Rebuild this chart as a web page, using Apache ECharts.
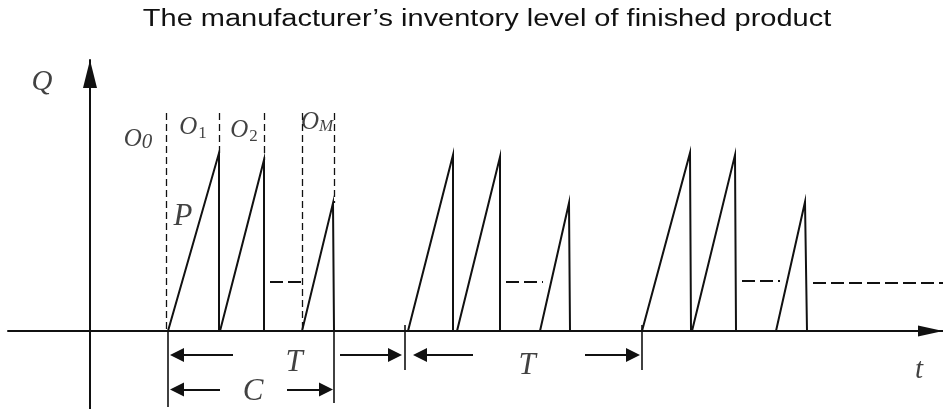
<!DOCTYPE html>
<html>
<head>
<meta charset="utf-8">
<script src="https://cdn.jsdelivr.net/npm/echarts@6/dist/echarts.min.js"></script>
<style>
  html, body { margin: 0; padding: 0; background: #fff; }
  #chart { width: 943px; height: 409px; }
</style>
</head>
<body>
<div id="chart"></div>
<script>
// Inventory sawtooth: each tooth = [start (t, Q), peak (t, Q), drop (t, Q)]
const teeth = [
  [[7.8, 0], [12.9, 17.8], [12.9, 0]],
  [[13.0, 0], [17.4, 17.1], [17.4, 0]],
  [[21.2, 0], [24.3, 12.8], [24.4, 0]],
  [[31.8, 0], [36.3, 17.6], [36.3, 0]],
  [[36.7, 0], [41.0, 17.4], [41.0, 0]],
  [[45.0, 0], [47.9, 12.8], [48.0, 0]],
  [[55.2, 0], [60.0, 17.8], [60.1, 0]],
  [[60.2, 0], [64.5, 17.6], [64.6, 0]],
  [[68.6, 0], [71.5, 12.9], [71.7, 0]]
];

// Solid cycle markers below the time axis: [t, Q top, Q bottom]
const cycleMarks = [
  [7.8, 0, -7.6],
  [24.4, 0, -7.2],
  [31.5, 0.6, -3.9],
  [55.2, 0.6, -3.9]
];

// Order-period boundaries O0 | O1 | O2 ... | OM: [t, Q where the dashed guide stops]
const periodBounds = [[7.6, 0], [12.9, 17.8], [17.4, 17.1], [21.2, 0], [24.4, 12.8]];
const guideTop = 21.8;

// "- -" ellipsis between teeth: [t start, t end, Q]
const ellipses = [
  [18.0, 21.6, 4.9],
  [41.6, 45.3, 4.9],
  [65.2, 69.0, 5.0],
  [72.3, 85.3, 4.8]
];

// Dimension arrows: [t from, t tip]
const spanT = [[14.3, 8.0], [25.0, 31.2], [38.3, 32.3], [49.5, 55.0]];
const rowT = -2.4;
const spanC = [[13.0, 8.0], [19.7, 24.3]];
const rowC = -5.85;

// Annotations
const noteText = ['Q', 'O', 'O', 'O', 'O', 'P', 'T', 'T', 'C', 't'];
const noteSub  = ['',  '0', '1', '2', 'M', '',  '',  '',  '',  ''];
const noteAt   = [[-4.8, 24.9], [4.8, 19.2], [10.3, 20.4], [15.4, 20.1], [22.7, 20.9],
                  [9.3, 11.4], [20.4, -3.2], [43.7, -3.5], [16.3, -6.1], [82.9, -3.9]];

const titleText = 'The manufacturer\u2019s inventory level of finished product';

const INK = '#111';
const SERIF = "'Liberation Serif', 'Times New Roman', serif";
const PX_PER_UNIT = 10;
const ARROW = [11, 14];

// pull each arrow end back so the arrowhead tip lands on the data value
function arrowCoords(from, tip, q) {
  const dir = Math.sign(tip - from);
  const back = ARROW[1] / 2 / PX_PER_UNIT;
  return [[from, q], [tip - dir * back, q]];
}

function noteLabel(i) {
  const main = noteText[i], sub = noteSub[i];
  if (main === 'Q') return '{q|Q}';
  if (main === 't') return '{tt|t}';
  if (!sub) return '{big|' + main + '}';
  const subStyle = sub === 'M' ? 'm' : (sub === '0' ? 'z' : 's');
  return '{o|' + main + '}{' + subStyle + '|' + sub + '}';
}

const chart = echarts.init(document.getElementById('chart'), null, { renderer: 'canvas' });

const option = {
  animation: false,
  backgroundColor: '#fff',
  graphic: [{
    type: 'text',
    x: 487,
    y: 20,
    scaleX: 1.26,
    style: {
      text: titleText,
      font: "23px 'Liberation Sans', Arial, sans-serif",
      fill: INK,
      align: 'center',
      verticalAlign: 'middle'
    }
  }],
  grid: { left: 8, right: 0, top: 60, bottom: 0 },
  xAxis: {
    type: 'value', min: -8.2, max: 85.3,
    axisLine: {
      onZero: true,
      symbol: ['none', 'triangle'],
      symbolSize: [11, 25],
      symbolOffset: [0, -12.5],
      lineStyle: { color: INK, width: 2 }
    },
    axisTick: { show: false }, axisLabel: { show: false }, splitLine: { show: false }
  },
  yAxis: {
    type: 'value', min: -7.8, max: 27.1,
    axisLine: {
      onZero: true,
      symbol: ['none', 'triangle'],
      symbolSize: [14, 28],
      symbolOffset: [0, -14],
      lineStyle: { color: INK, width: 2 }
    },
    axisTick: { show: false }, axisLabel: { show: false }, splitLine: { show: false }
  },
  series: [
    {
      name: 'inventory',
      type: 'lines', coordinateSystem: 'cartesian2d', polyline: true, silent: true,
      data: teeth.map(c => ({ coords: c })),
      lineStyle: { color: INK, width: 2, opacity: 1, curveness: 0 }
    },
    {
      name: 'cycle marks',
      type: 'lines', coordinateSystem: 'cartesian2d', silent: true,
      data: cycleMarks.map(([t, a, b]) => ({ coords: [[t, a], [t, b]] })),
      lineStyle: { color: INK, width: 1.6, opacity: 1 }
    },
    {
      name: 'period bounds',
      type: 'lines', coordinateSystem: 'cartesian2d', silent: true,
      data: periodBounds.map(([t, q]) => ({ coords: [[t, guideTop], [t, q]] })),
      lineStyle: { color: INK, width: 1.3, opacity: 1, type: [7, 4] }
    },
    {
      name: 'ellipses',
      type: 'lines', coordinateSystem: 'cartesian2d', silent: true,
      data: ellipses.map(([a, b, q]) => ({ coords: [[a, q], [b, q]] })),
      lineStyle: { color: INK, width: 1.8, opacity: 1, type: [13, 5] }
    },
    {
      name: 'spans',
      type: 'lines', coordinateSystem: 'cartesian2d', silent: true,
      symbol: ['none', 'triangle'], symbolSize: ARROW,
      data: spanT.map(([a, b]) => ({ coords: arrowCoords(a, b, rowT) }))
        .concat(spanC.map(([a, b]) => ({ coords: arrowCoords(a, b, rowC) }))),
      lineStyle: { color: INK, width: 1.8, opacity: 1 },
      itemStyle: { color: INK }
    },
    {
      name: 'notes',
      type: 'scatter', silent: true,
      symbolSize: 1,
      itemStyle: { color: 'transparent' },
      data: noteAt.map((p, i) => ({ value: p, label: { formatter: noteLabel(i) } })),
      label: {
        show: true, position: 'inside', color: INK,
        rich: {
          q:   { fontFamily: SERIF, fontStyle: 'italic', fontSize: 29, color: INK },
          tt:  { fontFamily: SERIF, fontStyle: 'italic', fontSize: 29, color: INK },
          big: { fontFamily: SERIF, fontStyle: 'italic', fontSize: 31, color: INK },
          o:   { fontFamily: SERIF, fontStyle: 'italic', fontSize: 25, lineHeight: 25, verticalAlign: 'top', color: INK },
          z:   { fontFamily: SERIF, fontStyle: 'italic', fontSize: 21, lineHeight: 21, padding: [5, 0, 0, 0], verticalAlign: 'top', color: INK },
          s:   { fontFamily: SERIF, fontSize: 17, lineHeight: 17, padding: [11, 0, 0, 1], verticalAlign: 'top', color: INK },
          m:   { fontFamily: SERIF, fontStyle: 'italic', fontSize: 17, lineHeight: 17, padding: [9, 0, 0, 0], verticalAlign: 'top', color: INK }
        }
      }
    }
  ]
};

chart.setOption(option);
</script>
</body>
</html>
